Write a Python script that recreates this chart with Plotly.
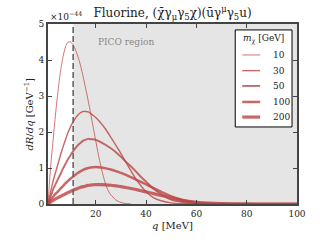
import plotly.graph_objects as go

# ---- data ----
q_10 = [1, 2, 3, 4, 5, 6, 7, 8, 9, 10, 11, 12, 13, 14, 15, 16, 17, 18, 19, 20,
        21, 22, 23, 24, 25, 26, 27, 28, 29, 30, 32, 34]
rate_10 = [0, 1.0, 1.75, 2.5, 3.15, 3.7, 4.1, 4.38, 4.5, 4.5, 4.42, 4.27, 4.07, 3.83,
           3.53, 3.2, 2.86, 2.5, 2.12, 1.75, 1.38, 1.05, 0.77, 0.53, 0.36, 0.25,
           0.18, 0.11, 0.07, 0.04, 0.01, 0]

q = [1, 2, 3, 4, 5, 6, 7, 8, 9, 10, 11, 12, 13, 14, 15, 16, 17, 18, 19, 20,
     22, 24, 26, 28, 30, 32, 34, 36, 38, 40, 43, 46, 50, 55, 60, 65, 70, 80, 90, 100]
rate_30 = [0, 0.33, 0.63, 0.88, 1.12, 1.37, 1.59, 1.80, 1.99, 2.15, 2.28, 2.39, 2.48,
           2.54, 2.57, 2.57, 2.56, 2.51, 2.46, 2.40, 2.25, 2.07, 1.85, 1.63, 1.40,
           1.16, 0.92, 0.69, 0.50, 0.34, 0.17, 0.09, 0.03, 0.005, 0, 0, 0, 0, 0, 0]
rate_50 = [0, 0.20, 0.40, 0.55, 0.70, 0.84, 0.99, 1.12, 1.25, 1.36, 1.47, 1.56, 1.64,
           1.70, 1.76, 1.79, 1.81, 1.80, 1.80, 1.78, 1.72, 1.64, 1.55, 1.44, 1.31,
           1.17, 1.04, 0.90, 0.75, 0.62, 0.42, 0.27, 0.12, 0.047, 0.014, 0.003, 0,
           0, 0, 0]
rate_100 = [0, 0.10, 0.20, 0.28, 0.35, 0.43, 0.50, 0.58, 0.64, 0.71, 0.76, 0.82, 0.87,
            0.91, 0.95, 0.98, 1.00, 1.015, 1.02, 1.025, 1.015, 0.99, 0.956, 0.914,
            0.863, 0.81, 0.745, 0.678, 0.612, 0.543, 0.438, 0.337, 0.214, 0.101,
            0.044, 0.017, 0.006, 0, 0, 0]
rate_200 = [0, 0.049, 0.097, 0.14, 0.177, 0.213, 0.25, 0.286, 0.32, 0.352, 0.384, 0.41,
            0.438, 0.463, 0.482, 0.502, 0.517, 0.525, 0.535, 0.538, 0.54, 0.534,
            0.521, 0.503, 0.482, 0.458, 0.432, 0.402, 0.369, 0.336, 0.287, 0.236,
            0.170, 0.098, 0.048, 0.022, 0.009, 0.001, 0, 0]

masses = ["10", "30", "50", "100", "200"]
pico_threshold = 11
x_ticks = [20, 40, 60, 80, 100]
y_ticks = [0, 1, 2, 3, 4, 5]

FONT = "DejaVu Serif"
TXT = "#222222"
LINE_COLOR = "rgba(188,66,66,0.8)"
widths = [0.9, 1.4, 1.9, 2.5, 3.2]
series = [(q_10, rate_10), (q, rate_30), (q, rate_50), (q, rate_100), (q, rate_200)]

fig = go.Figure()
for (xs, ys), m, w in zip(series, masses, widths):
    fig.add_trace(go.Scatter(
        x=xs, y=ys, mode="lines", name=m, showlegend=False,
        line=dict(color=LINE_COLOR, width=w, shape="spline", smoothing=0.6),
    ))

fig.add_shape(type="rect", xref="x", yref="paper", x0=pico_threshold, x1=100, y0=0, y1=1,
              fillcolor="#e5e5e5", line_width=0, layer="below")
fig.add_shape(type="line", xref="x", yref="paper", x0=pico_threshold, x1=pico_threshold,
              y0=0, y1=1, line=dict(color="#666666", width=1.6, dash="6px,3px"))

fig.add_annotation(x=20, y=4.5, xref="x", yref="y", text="PICO region", showarrow=False,
                   xanchor="left", yanchor="middle",
                   font=dict(family=FONT, size=9, color="#888888"))
fig.add_annotation(x=0, y=1, xref="paper", yref="paper", text="×10<sup>−44</sup>",
                   showarrow=False, xanchor="left", yanchor="bottom", yshift=0,
                   font=dict(family=FONT, size=9, color=TXT))
# y-axis title
fig.add_annotation(x=-0.078, y=0.5, xref="paper", yref="paper",
                   text="<i>dR</i>/<i>dq</i> [GeV<sup>−1</sup>]", textangle=-90,
                   showarrow=False, xanchor="center", yanchor="middle",
                   font=dict(family=FONT, size=10, color=TXT))

# ---- legend box (drawn in paper coordinates) ----
leg_x0, leg_x1, leg_y0, leg_y1 = 0.752, 0.98, 0.428, 0.967
fig.add_shape(type="rect", xref="paper", yref="paper", x0=leg_x0, x1=leg_x1,
              y0=leg_y0, y1=leg_y1, fillcolor="white", line=dict(color="black", width=1),
              layer="above")
fig.add_annotation(x=(leg_x0 + leg_x1) / 2, y=0.917, xref="paper", yref="paper",
                   text="<i>m</i><sub>χ</sub> [GeV]", showarrow=False,
                   xanchor="center", yanchor="middle",
                   font=dict(family=FONT, size=9, color=TXT))
entry_y = [0.828, 0.741, 0.656, 0.567, 0.483]
for m, w, yy in zip(masses, widths, entry_y):
    fig.add_shape(type="line", xref="paper", yref="paper", x0=0.78, x1=0.852, y0=yy, y1=yy,
                  line=dict(color=LINE_COLOR, width=w), layer="above")
    fig.add_annotation(x=0.895, y=yy, xref="paper", yref="paper", text=m, showarrow=False,
                       xanchor="left", yanchor="middle",
                       font=dict(family=FONT, size=9, color=TXT))

axis_common = dict(
    ticks="inside", ticklen=4, tickwidth=1, tickcolor="#444444",
    showline=True, linecolor="#444444", linewidth=2, mirror="ticks",
    showgrid=False, zeroline=False, automargin=False,
    tickfont=dict(family=FONT, size=9, color=TXT),
)
fig.update_xaxes(range=[1, 100], tickvals=x_ticks,
                 title=dict(text="<i>q</i> [MeV]", font=dict(family=FONT, size=10, color=TXT),
                            standoff=4),
                 **axis_common)
fig.update_yaxes(range=[0, 5], tickvals=y_ticks, **axis_common)

fig.update_layout(
    width=320, height=240,
    margin=dict(l=47.5, r=23, t=24, b=36, autoexpand=False),
    plot_bgcolor="white", paper_bgcolor="white",
    hovermode=False, showlegend=False,
    title=dict(text="Fluorine, (χ̄γ<sub>μ</sub>γ<sub>5</sub>χ)(ūγ<sup>μ</sup>γ<sub>5</sub>u)",
               x=0.5, xref="paper", xanchor="center", y=0.945, yanchor="middle",
               automargin=False,
               font=dict(family=FONT, size=12, color=TXT)),
)

fig.write_html("out.html", config={"displayModeBar": False, "staticPlot": True},
               post_script="document.body.style.margin='0';")
